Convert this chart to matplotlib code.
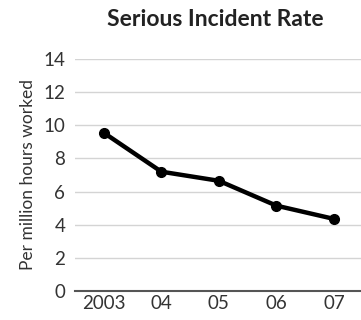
import matplotlib
matplotlib.use("Agg")
import matplotlib.pyplot as plt
import numpy as np

years = ["2003", "04", "05", "06", "07"]
rates = [9.55, 7.2, 6.65, 5.15, 4.35]
yticks = [0, 2, 4, 6, 8, 10, 12, 14]

plt.rcParams["font.family"] = ["Lato", "DejaVu Sans"]

fig = plt.figure(figsize=(3.61, 3.2), dpi=100)
ax = fig.add_axes([75 / 361, 29 / 320, 1 - 75 / 361, (291 - 59) / 320])

x = np.arange(len(years))
ax.plot(x, rates, color="black", linewidth=3.2, marker="o", markersize=7,
        solid_joinstyle="round", clip_on=False, zorder=3)

ax.set_xlim(-0.5, 4.47)
ax.set_ylim(0, 14)
ax.set_yticks(yticks)
ax.set_xticks(x)
ax.set_xticklabels(years)

# сетка и оси
ax.grid(axis="y", color="#d4d4d4", linewidth=1)
ax.set_axisbelow(True)
for s in ["top", "right", "left"]:
    ax.spines[s].set_visible(False)
ax.spines["bottom"].set_color("#555555")
ax.spines["bottom"].set_linewidth(1.5)
ax.tick_params(length=0, labelsize=13.5, colors="#333333", pad=3)
ax.tick_params(axis="y", pad=7)

ax.set_ylabel("Per million hours worked", fontsize=12.5, color="#333333", labelpad=5)
fig.text(215 / 361, 1 - 20 / 320, "Serious Incident Rate", ha="center", va="center",
         fontsize=16.5, fontweight="bold", color="#222222")

fig.savefig("out.png", dpi=100)
